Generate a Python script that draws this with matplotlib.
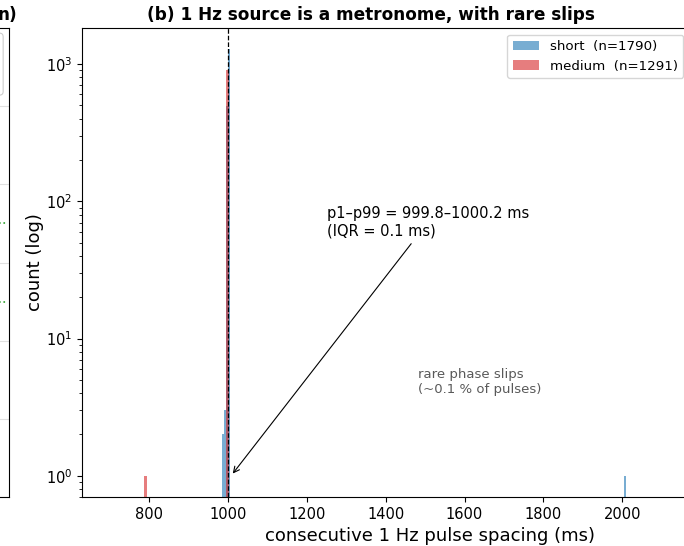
import matplotlib
matplotlib.use("Agg")
import matplotlib.pyplot as plt
from matplotlib.patches import FancyBboxPatch

# histogram bins (left edge, ms) and counts per source
short_left = [985, 990, 995, 1000, 2005]
short_count = [2, 3, 495, 1289, 1]
short_width = 5
medium_left = [787, 996]
medium_count = [1, 905]
medium_width = 8

short_label = "short  (n=1790)"
medium_label = "medium  (n=1291)"

nominal_ms = 1000
x_ticks = [800, 1000, 1200, 1400, 1600, 1800, 2000]

spread_text = "p1\u2013p99 = 999.8\u20131000.2 ms\n(IQR = 0.1 ms)"
slip_text = "rare phase slips\n(~0.1 % of pulses)"


def draw_left_panel(fig):
	# right edge of panel (a), which sits beside this one
	ax0 = fig.add_axes([-0.6, 0.0897, 0.6132, 0.859])
	ax0.set_xlim(0, 1)
	ax0.set_ylim(0, 6)
	ax0.set_xticks([])
	ax0.set_yticks([1, 2, 3, 4, 5], labels=[])
	ax0.tick_params(axis="y", length=0)
	ax0.grid(axis="y", color="0.88", lw=0.8)
	for y in (2.5, 3.5):
		ax0.plot([0.7, 0.993], [y, y], color="tab:green", ls=":", lw=1.2)
	box = FancyBboxPatch((0.6, 0.857), 0.386, 0.132, boxstyle="round,pad=0,rounding_size=0.008",
		transform=ax0.transAxes, facecolor="white", edgecolor="0.8", lw=0.8)
	ax0.add_patch(box)
	ax0.annotate("n)", xy=(1, 1), xycoords="axes fraction", xytext=(5.8, 6),
		textcoords="offset points", ha="right", va="baseline", fontsize=12.2, fontweight="bold")


def plot_data():
	fig = plt.figure(figsize=(6.84, 5.46), dpi=100)
	draw_left_panel(fig)

	ax = fig.add_axes([0.1199, 0.0897, 0.889, 0.859])
	ax.bar(short_left, short_count, width=short_width, align="edge",
		color="tab:blue", alpha=0.6, label=short_label)
	ax.bar(medium_left, medium_count, width=medium_width, align="edge",
		color="tab:red", alpha=0.6, label=medium_label)
	ax.axvline(nominal_ms, color="k", ls="--", lw=0.9)

	ax.set_yscale("log")
	ax.set_xlim(630, 2172)
	ax.set_ylim(0.7, 1830)
	ax.set_xticks(x_ticks)
	ax.tick_params(labelsize=10.5)

	ax.annotate(spread_text, xy=(1008, 1.0), xytext=(1250, 70), fontsize=10.5, va="center",
		arrowprops=dict(arrowstyle="->", color="k", lw=0.8))
	ax.text(1482, 4.8, slip_text, color="0.35", fontsize=9.5, va="center")

	ax.legend(loc="upper right", fontsize=9.6)
	ax.set_xlabel("consecutive 1 Hz pulse spacing (ms)", fontsize=13, x=0.572)
	ax.set_ylabel("count (log)", fontsize=13, labelpad=1)
	ax.set_title("(b) 1 Hz source is a metronome, with rare slips", fontsize=12.2,
		fontweight="bold", x=0.475)

	fig.savefig("out.png", dpi=100)


def main():
	plot_data()

if __name__ == '__main__':
	main()
